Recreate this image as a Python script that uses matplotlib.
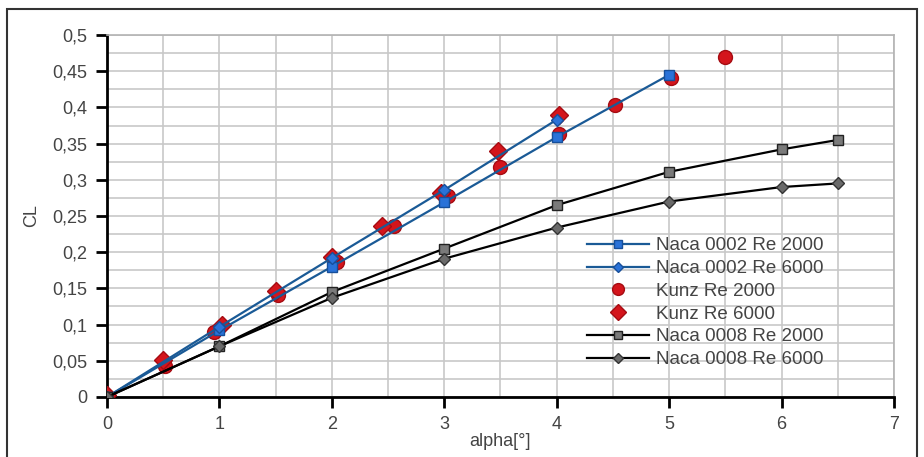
import matplotlib
matplotlib.use("Agg")
import matplotlib.pyplot as plt
from matplotlib.patches import Rectangle
from matplotlib.ticker import MultipleLocator, FuncFormatter

plt.rcParams["font.family"] = ["Liberation Sans", "DejaVu Sans"]

# data
alpha_naca = [0, 1, 2, 3, 4, 5]
cl_0002_re2000 = [0, 0.092, 0.18, 0.269, 0.359, 0.445]
cl_0002_re6000 = [0, 0.097, 0.192, 0.286, 0.383]

alpha_kunz2000 = [0, 0.52, 0.95, 1.52, 2.05, 2.55, 3.03, 3.5, 4.02, 4.52, 5.02, 5.5]
cl_kunz2000 = [0.0, 0.043, 0.09, 0.141, 0.186, 0.236, 0.277, 0.318, 0.363, 0.404, 0.441, 0.47]
alpha_kunz6000 = [0, 0.5, 1.02, 1.5, 2.0, 2.45, 2.97, 3.48, 4.02]
cl_kunz6000 = [0.003, 0.051, 0.1, 0.147, 0.193, 0.236, 0.282, 0.34, 0.389]

alpha_0008 = [0, 1, 2, 3, 4, 5, 6, 6.5]
cl_0008_re2000 = [0, 0.07, 0.145, 0.205, 0.265, 0.311, 0.342, 0.355]
cl_0008_re6000 = [0, 0.07, 0.137, 0.191, 0.234, 0.27, 0.29, 0.295]

blue = "#1a5a96"
txt = "#444444"

fig = plt.figure(figsize=(9.24, 4.57), dpi=100)
ax = fig.add_axes([0.1158, 0.1313, 0.8517, 0.7921])

ax.plot(alpha_naca, cl_0002_re2000, color=blue, lw=1.6, marker="s", ms=7,
        mfc="#2a72d8", mec="#174f9a", label="Naca 0002 Re 2000", zorder=4)
ax.plot(alpha_naca[:5], cl_0002_re6000, color=blue, lw=1.6, marker="D", ms=6,
        mfc="#2a72d8", mec="#174f9a", label="Naca 0002 Re 6000", zorder=4)
ax.plot(alpha_kunz2000, cl_kunz2000, ls="none", marker="o", ms=10,
        mfc="#d4151c", mec="#a50c12", label="Kunz Re 2000", zorder=3)
ax.plot(alpha_kunz6000, cl_kunz6000, ls="none", marker="D", ms=9,
        mfc="#d4151c", mec="#a50c12", label="Kunz Re 6000", zorder=3)
ax.plot(alpha_0008, cl_0008_re2000, color="black", lw=1.6, marker="s", ms=7,
        mfc="#7a7a7a", mec="#222222", label="Naca 0008 Re 2000", zorder=4)
ax.plot(alpha_0008, cl_0008_re6000, color="black", lw=1.6, marker="D", ms=6,
        mfc="#6a6a6a", mec="#333333", label="Naca 0008 Re 6000", zorder=4)

ax.set_xlim(0, 7)
ax.set_ylim(0, 0.5)
ax.xaxis.set_major_locator(MultipleLocator(1))
ax.xaxis.set_minor_locator(MultipleLocator(0.5))
ax.yaxis.set_major_locator(MultipleLocator(0.05))
ax.yaxis.set_minor_locator(MultipleLocator(0.025))
ax.yaxis.set_major_formatter(FuncFormatter(lambda v, p: ("%g" % round(v, 3)).replace(".", ",")))
ax.grid(True, which="both", color="#c8c8c8", lw=1.2)
ax.set_axisbelow(True)
ax.tick_params(which="minor", length=0)
ax.tick_params(which="major", length=8, width=2, colors="black", labelcolor=txt,
               labelsize=13, pad=6)

for s in ["left", "bottom"]:
    ax.spines[s].set_linewidth(2)
    ax.spines[s].set_color("black")
for s in ["top", "right"]:
    ax.spines[s].set_color("#b3b3b3")
    ax.spines[s].set_linewidth(1.2)

ax.set_ylabel("CL", fontsize=13, color=txt, labelpad=9)
ax.set_xlabel("alpha[°]", fontsize=13, color=txt, labelpad=0)

leg = ax.legend(loc="upper left", bbox_to_anchor=(0.61, 0.441), frameon=False,
                fontsize=13.5, labelcolor=txt, handlelength=3.3, handletextpad=0.4,
                labelspacing=0.3, borderaxespad=0, borderpad=0, markerscale=0.85)

fig.patches.append(Rectangle((7 / 924, -0.01), 910 / 924, 1 - 9 / 457 + 0.01,
                             transform=fig.transFigure, fill=False,
                             edgecolor="#333333", lw=1.5))

fig.savefig("out.png", dpi=100)
